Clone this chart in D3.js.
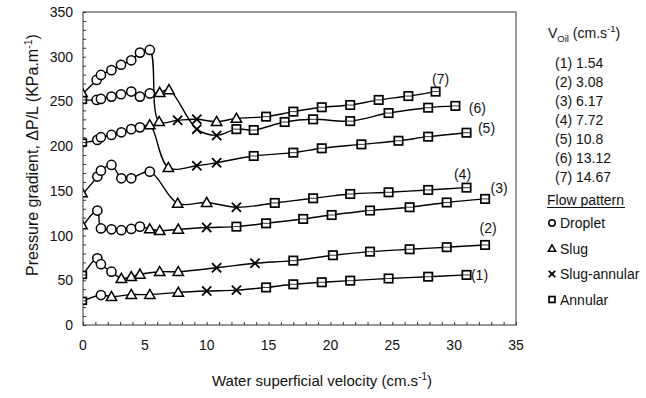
<!DOCTYPE html>
<html><head><meta charset="utf-8">
<script src="https://cdn.jsdelivr.net/npm/d3@7"></script>
<style>
html,body{margin:0;padding:0;background:#fff;}
svg{display:block;font-family:"Liberation Sans",Arial,sans-serif;}
</style></head>
<body><svg id="c" width="646" height="398"></svg>
<script>
// ---- data ----
const vOil = ["1.54","3.08","6.17","7.72","10.8","13.12","14.67"];
const seriesLabels = ["(1)","(2)","(3)","(4)","(5)","(6)","(7)"];
const xTicks = [0,5,10,15,20,25,30,35];
const yTicks = [0,50,100,150,200,250,300,350];
const patternNames = ["Droplet","Slug","Slug-annular","Annular"];
const patternCodes = ["o","t","x","s"];

const s1x = [0,1.45,2.3,3.9,5.4,7.7,10.0,12.4,14.8,17.0,19.3,21.6,24.7,27.9,31.0];
const s1y = [27,33.5,31.7,34,34,36.5,38,39,42,45.5,47.8,49.6,52,54,56];
const s1p = ["s","o","t","t","t","t","x","x","s","s","s","s","s","s","s"];

const s2x = [0,1.16,1.45,2.3,3.1,3.9,4.6,6.2,7.7,10.8,13.9,17.0,20.2,23.2,26.4,29.4,32.5];
const s2y = [56,74.6,68,59.6,52,54,56.7,59.6,59.6,64,69,72,78,82,84.7,87,89.5];
const s2p = ["s","o","o","o","t","t","t","t","t","x","x","s","s","s","s","s","s"];

const s3x = [0,1.16,1.45,2.3,3.1,3.9,4.6,5.4,6.2,7.7,10.0,12.4,14.8,17.8,20.1,23.2,26.4,29.4,32.5];
const s3y = [111,128,108,107,106,107.4,110,107.4,105.5,107,109,110,113.7,118.6,123,128,131.7,137,141];
const s3p = ["t","o","o","o","o","o","o","t","t","t","x","s","s","s","s","s","s","s","s"];

const s4x = [0,1.16,1.45,2.3,3.1,3.9,5.4,7.65,10.0,12.4,15.5,18.6,21.6,24.7,27.9,31.0];
const s4y = [147,166,172.6,179,164,164,171.5,136,137,131.6,136.5,141.7,146.5,148.4,151,153.6];
const s4p = ["t","o","o","o","o","o","o","t","t","x","s","s","s","s","s","s"];

const s5x = [0,1.16,1.45,2.3,3.1,3.9,4.6,5.4,6.9,9.2,10.8,13.8,17.0,19.3,22.5,25.5,27.9,31.0];
const s5y = [204,207,210,212.5,215.5,219,221,223.7,176,178,181.5,189,192.7,197.6,202,206,210.6,215];
const s5p = ["s","o","o","o","o","o","o","t","t","x","x","s","s","s","s","s","s","s"];

const s6x = [0,1.1,1.45,2.3,3.07,3.9,4.6,5.4,6.2,6.95,9.2,10.8,12.4,13.8,16.3,18.6,21.6,24.7,27.9,30.1];
const s6y = [251.7,251.7,252.8,255.4,258,261,255.4,259,260,263,219,212,219,218,227,230,228,237,243,245];
const s6p = ["s","o","o","o","o","o","o","o","t","t","x","x","s","s","s","s","s","s","s","s"];

const s7x = [0,1.1,1.45,2.3,3.07,3.9,4.6,5.4,6.15,7.65,9.2,10.8,12.4,14.8,17.0,19.3,21.6,23.9,26.3,28.5];
const s7y = [259,274,279.6,285,291,296,304.6,307.6,227.4,229,230,227.4,231,233,238.6,243.5,246,251.7,256,261];
const s7p = ["t","o","o","o","o","o","o","o","t","x","x","t","t","s","s","s","s","s","s","s"];

const seriesX = [s1x,s2x,s3x,s4x,s5x,s6x,s7x];
const seriesY = [s1y,s2y,s3y,s4y,s5y,s6y,s7y];
const seriesP = [s1p,s2p,s3p,s4p,s5p,s6p,s7p];

// ---- layout ----
const L = 83, R = 516, T = 12, B = 325;
const svg = d3.select("#c");
const x = d3.scaleLinear().domain([0,35]).range([L,R]);
const y = d3.scaleLinear().domain([0,350]).range([B,T]);

svg.append("defs").append("clipPath").attr("id","clip")
  .append("rect").attr("x",L).attr("y",T).attr("width",R-L).attr("height",B-T);

// frame
svg.append("rect").attr("x",L).attr("y",T).attr("width",R-L).attr("height",B-T)
  .attr("fill","none").attr("stroke","#333").attr("stroke-width",1);

// minor inward ticks
const gx = svg.append("g").attr("transform",`translate(0,${B})`)
  .call(d3.axisTop(x).tickValues(d3.range(0,36,1)).tickSize(3).tickFormat(""));
gx.select(".domain").remove();
gx.selectAll("line").attr("stroke","#333");
const gy = svg.append("g").attr("transform",`translate(${L},0)`)
  .call(d3.axisRight(y).tickValues(d3.range(0,351,10)).tickSize(3).tickFormat(""));
gy.select(".domain").remove();
gy.selectAll("line").attr("stroke","#333");

// tick labels
svg.append("g").selectAll("text").data(xTicks).join("text")
  .attr("x",d=>x(d)).attr("y",350).attr("text-anchor","middle")
  .attr("font-size",14).attr("fill","#111").text(d=>d);
svg.append("g").selectAll("text").data(yTicks).join("text")
  .attr("x",73).attr("y",d=>y(d)+5).attr("text-anchor","end")
  .attr("font-size",14).attr("fill","#111").text(d=>d);

// axis titles
const xt = svg.append("text").attr("x",322).attr("y",386).attr("text-anchor","middle")
  .attr("font-size",15).attr("fill","#111");
xt.append("tspan").text("Water superficial velocity (cm.s");
xt.append("tspan").attr("font-size",10).attr("dy",-6).text("-1");
xt.append("tspan").attr("dy",6).text(")");

const yt = svg.append("text").attr("transform",`translate(38,${155}) rotate(-90)`)
  .attr("text-anchor","middle").attr("font-size",16).attr("fill","#111");
yt.append("tspan").text("Pressure gradient, \u0394P/L (KPa.m");
yt.append("tspan").attr("font-size",10.5).attr("dy",-6).text("-1");
yt.append("tspan").attr("dy",6).text(")");

// lines
const line = d3.line().x(d=>x(d[0])).y(d=>y(d[1])).curve(d3.curveCatmullRom.alpha(0.5));
const plot = svg.append("g").attr("clip-path","url(#clip)");
seriesX.forEach((xs,i)=>{
  const pts = xs.map((v,j)=>[v,seriesY[i][j]]);
  plot.append("path").datum(pts).attr("d",line)
    .attr("fill","none").attr("stroke","#000").attr("stroke-width",1.4);
});

// markers
function marker(g,code,cx,cy,sz,mid){
  const s = sz||1;
  if(code==="o"){
    g.append("circle").attr("cx",cx).attr("cy",cy).attr("r",4.6*s)
      .attr("fill","#fff").attr("stroke","#000").attr("stroke-width",1.5);
  } else if(code==="t"){
    const h=5.2*s;
    g.append("path").attr("d",`M${cx},${cy-h}L${cx+h},${cy+h*0.75}L${cx-h},${cy+h*0.75}Z`)
      .attr("fill","#fff").attr("stroke","#000").attr("stroke-width",1.5);
  } else if(code==="x"){
    const h=4.6*s;
    g.append("path").attr("d",`M${cx-h},${cy-h}L${cx+h},${cy+h}M${cx-h},${cy+h}L${cx+h},${cy-h}`)
      .attr("stroke","#000").attr("stroke-width",1.8);
  } else {
    const h=4.2*s;
    g.append("rect").attr("x",cx-h).attr("y",cy-h).attr("width",2*h).attr("height",2*h)
      .attr("fill","#fff").attr("stroke","#000").attr("stroke-width",1.7);
    if(mid) g.append("line").attr("x1",cx-h).attr("x2",cx+h).attr("y1",cy).attr("y2",cy)
      .attr("stroke","#000").attr("stroke-width",0.8);
  }
}
const mk = svg.append("g").attr("clip-path","url(#clip)");
seriesX.forEach((xs,i)=>{
  xs.forEach((v,j)=>marker(mk,seriesP[i][j],x(v),y(seriesY[i][j]), j===0?0.8:1, true));
});

// series labels
const labOff = [[13,0],[3,-17],[14,-11],[-4,-14],[20,-5],[22,2],[5,-13]];
seriesLabels.forEach((t,i)=>{
  const xs = seriesX[i], ys = seriesY[i], n = xs.length-1;
  svg.append("text").attr("x",x(xs[n])+labOff[i][0]).attr("y",y(ys[n])+labOff[i][1]+5)
    .attr("text-anchor","middle").attr("font-size",14).attr("fill","#111").text(t);
});

// legend
const lg = svg.append("g").attr("font-size",14).attr("fill","#111");
const vt = lg.append("text").attr("x",548).attr("y",38);
vt.append("tspan").text("V");
vt.append("tspan").attr("font-size",9.5).attr("dy",4).text("Oil");
vt.append("tspan").attr("dy",-4).text(" (cm.s");
vt.append("tspan").attr("font-size",9.5).attr("dy",-6).text("-1");
vt.append("tspan").attr("dy",6).text(")");
vOil.forEach((v,i)=>{
  lg.append("text").attr("x",555).attr("y",68+i*19).text(seriesLabels[i]);
  lg.append("text").attr("x",576).attr("y",68+i*19).text(v);
});
lg.append("text").attr("x",547).attr("y",205).text("Flow pattern");
lg.append("line").attr("x1",547).attr("x2",625).attr("y1",207.5).attr("y2",207.5)
  .attr("stroke","#111").attr("stroke-width",1);
patternNames.forEach((nm,i)=>{
  const yy = 223+i*25.5;
  marker(lg,patternCodes[i],552,yy,0.7,false);
  lg.append("text").attr("x",560).attr("y",yy+5).text(nm);
});
</script></body></html>
